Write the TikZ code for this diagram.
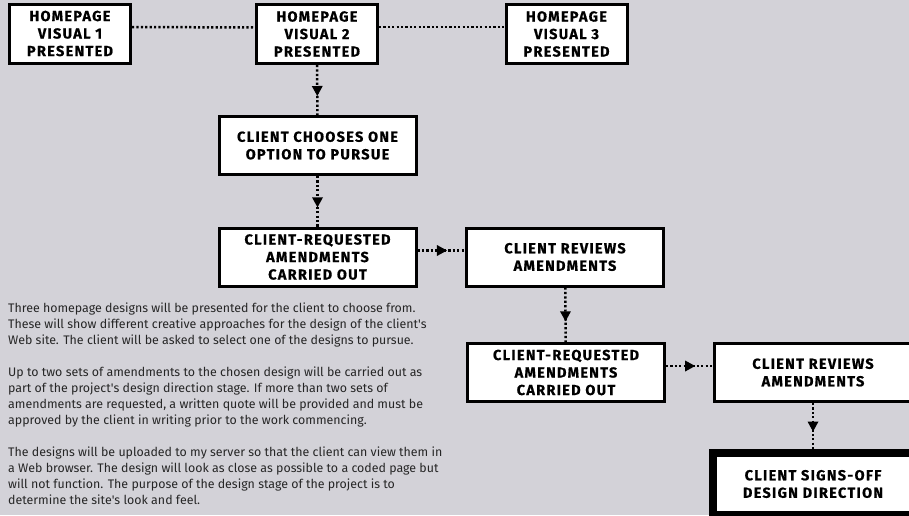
\documentclass[tikz,border=0pt]{standalone}
\usepackage{fontspec}
\setmainfont{Fira Sans}
\newfontfamily\boxfont{Fira Sans}[LetterSpace=9,BoldFeatures={FakeBold=0.6,LetterSpace=9}]
\usetikzlibrary{arrows.meta,decorations.markings}
\definecolor{paper}{RGB}{211,210,216}
\newcommand{\apos}{\textquotesingle}
\tikzset{
	stepbox/.style={draw,line width=3pt,fill=white,align=center,inner sep=0pt,
		font=\boxfont\fontsize{14.5}{17.5}\selectfont\bfseries,minimum height=58pt},
	smallbox/.style={stepbox,minimum width=121pt,minimum height=59pt},
	widebox/.style={stepbox,minimum width=197pt},
	dotline/.style={line width=2.5pt,dash pattern=on 2.2pt off 2.2pt},
	dotarrow/.style={dotline,postaction={decorate},decoration={markings,
		mark=at position 0.62 with {\arrow[line width=0pt]{Triangle[width=11pt,length=10pt]}}}}
}
\begin{document}
\begin{tikzpicture}
	\fill[paper] (0,0) rectangle (909pt,-515pt);
	\useasboundingbox (0,0) rectangle (909pt,-515pt);
	\begin{scope}[x=1pt,y=-1pt]
		% top row
		\node[smallbox] (Visual1) at (70,33.5) {HOMEPAGE\\VISUAL 1\\PRESENTED};
		\node[smallbox] (Visual2) at (317,34) {HOMEPAGE\\VISUAL 2\\PRESENTED};
		\node[smallbox] (Visual3) at (566.5,34) {HOMEPAGE\\VISUAL 3\\PRESENTED};
		\draw [dotline] ([yshift=6.5pt]Visual1.east) -- ([yshift=6.5pt]Visual2.west);
		\draw [dotline] ([yshift=7pt]Visual2.east) -- ([yshift=7pt]Visual3.west);
		% steps
		\node[widebox] (Choose) at (317.5,145.5) {CLIENT CHOOSES ONE\\OPTION TO PURSUE};
		\node[widebox] (AmendA) at (317.5,257) {CLIENT-REQUESTED\\AMENDMENTS\\CARRIED OUT};
		\node[widebox] (ReviewA) at (565,257) {CLIENT REVIEWS\\AMENDMENTS};
		\node[widebox] (AmendB) at (566,372.5) {CLIENT-REQUESTED\\AMENDMENTS\\CARRIED OUT};
		\node[widebox] (ReviewB) at (813,372.5) {CLIENT REVIEWS\\AMENDMENTS};
		\node[stepbox,line width=8pt,minimum width=200pt,minimum height=62pt] (SignOff) at (813,484) {CLIENT SIGNS-OFF\\DESIGN DIRECTION};
		\draw [dotarrow] (Visual2) -- (Choose);
		\draw [dotarrow] (Choose) -- (AmendA);
		\draw [dotarrow] ([yshift=6.5pt]AmendA.east) -- ([yshift=6.5pt]ReviewA.west);
		\draw [dotarrow] (ReviewA) -- (AmendB);
		\draw [dotarrow] ([yshift=6.5pt]AmendB.east) -- ([yshift=6.5pt]ReviewB.west);
		\draw [dotarrow] (ReviewB) -- (SignOff);
		% notes
		\node[anchor=north west,align=left,inner sep=0pt,text=black!85,
			font=\fontsize{12.4}{16}\selectfont] (Notes) at (8,302.5) {Three homepage designs will be presented for the client to choose from.\\
			These will show different creative approaches for the design of the client\apos s\\
			Web site. The client will be asked to select one of the designs to pursue.\\[16pt]
			Up to two sets of amendments to the chosen design will be carried out as\\
			part of the project\apos s design direction stage. If more than two sets of\\
			amendments are requested, a written quote will be provided and must be\\
			approved by the client in writing prior to the work commencing.\\[16pt]
			The designs will be uploaded to my server so that the client can view them in\\
			a Web browser. The design will look as close as possible to a coded page but\\
			will not function. The purpose of the design stage of the project is to\\
			determine the site\apos s look and feel.};
	\end{scope}
\end{tikzpicture}
\end{document}
